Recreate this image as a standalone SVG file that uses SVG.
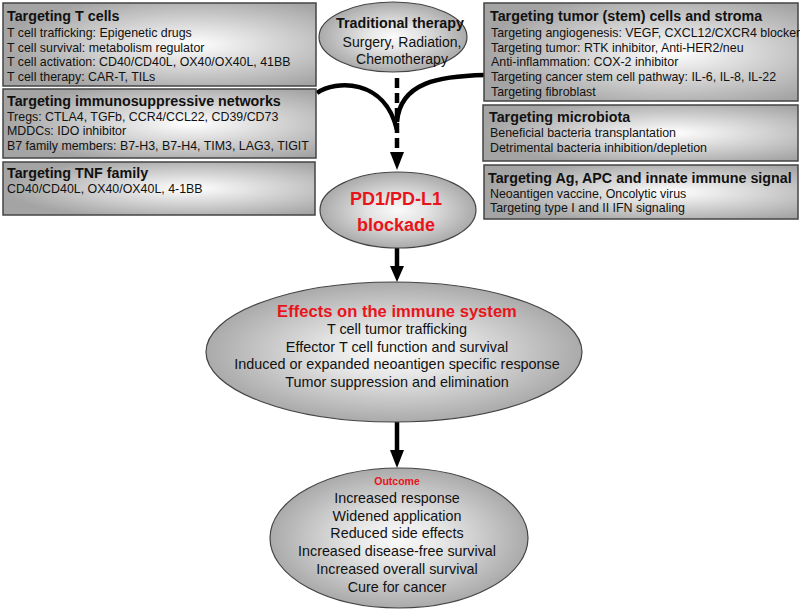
<svg xmlns="http://www.w3.org/2000/svg" width="800" height="611" viewBox="0 0 800 611">
<defs>
<radialGradient id="gb" cx="0.6" cy="0.5" r="0.6">
<stop offset="0" stop-color="#ffffff"/>
<stop offset="1" stop-color="#a4a4a4"/>
</radialGradient>
<radialGradient id="ge" cx="0.5" cy="0.5" r="0.5">
<stop offset="0" stop-color="#fafafa"/>
<stop offset="0.35" stop-color="#e6e6e6"/>
<stop offset="1" stop-color="#aaaaaa"/>
</radialGradient>
</defs>
<style>
.box{fill:url(#gb);stroke:#444;stroke-width:1.5}
.ell{fill:url(#ge);stroke:#444;stroke-width:1.2}
text{font-family:"Liberation Sans",Arial,sans-serif;fill:#111}
.t{font-size:14.3px;font-weight:bold}
.b{font-size:12.4px}
.c{text-anchor:middle}
.r{fill:#e8141b;font-weight:bold}
.ln{fill:none;stroke:#000;stroke-width:4.5}
</style>
<rect width="800" height="611" fill="#fff"/>

<g id="connectors">
<path class="ln" d="M317,93 C335,80 385,78 397,130"/>
<path class="ln" d="M485,75 C440,76 400,82 397,122"/>
<line class="ln" x1="397" y1="78" x2="397" y2="156" stroke-dasharray="10,5"/>
<path d="M390,152 L404,152 L397,170 Z" fill="#000"/>
<line class="ln" x1="397" y1="248" x2="397" y2="268"/>
<path d="M390,266 L404,266 L397,282 Z" fill="#000"/>
<line class="ln" x1="397" y1="422" x2="397" y2="452"/>
<path d="M390,450 L404,450 L397,468 Z" fill="#000"/>
</g>

<g id="box-tcells">
<rect class="box" x="3" y="3" width="313" height="83"/>
<text class="t" x="7" y="21">Targeting T cells</text>
<text class="b" x="7" y="37">T cell trafficking: Epigenetic drugs</text>
<text class="b" x="7" y="52">T cell survival: metabolism regulator</text>
<text class="b" x="7" y="66">T cell activation: CD40/CD40L, OX40/OX40L, 41BB</text>
<text class="b" x="7" y="81">T cell therapy: CAR-T, TILs</text>
</g>

<g id="box-immunosuppressive">
<rect class="box" x="3" y="89" width="313" height="69"/>
<text class="t" x="7" y="106">Targeting immunosuppressive networks</text>
<text class="b" x="7" y="121">Tregs: CTLA4, TGFb, CCR4/CCL22, CD39/CD73</text>
<text class="b" x="7" y="135">MDDCs: IDO inhibitor</text>
<text class="b" x="7" y="150">B7 family members: B7-H3, B7-H4, TIM3, LAG3, TIGIT</text>
</g>

<g id="box-tnf">
<rect class="box" x="3" y="162" width="312" height="53"/>
<text class="t" x="7" y="178">Targeting TNF family</text>
<text class="b" x="7" y="193">CD40/CD40L, OX40/OX40L, 4-1BB</text>
</g>

<g id="box-tumor">
<rect class="box" x="484" y="3" width="314" height="98"/>
<text class="t" x="490" y="21">Targeting tumor (stem) cells and stroma</text>
<text class="b" x="491" y="37">Targeting angiogenesis: VEGF, CXCL12/CXCR4 blocker</text>
<text class="b" x="491" y="52">Targeting tumor: RTK inhibitor, Anti-HER2/neu</text>
<text class="b" x="491" y="66">Anti-inflammation: COX-2 inhibitor</text>
<text class="b" x="491" y="81">Targeting cancer stem cell pathway: IL-6, IL-8, IL-22</text>
<text class="b" x="491" y="96">Targeting fibroblast</text>
</g>

<g id="box-microbiota">
<rect class="box" x="483" y="105" width="315" height="56"/>
<text class="t" x="489" y="122">Targeting microbiota</text>
<text class="b" x="490" y="137">Beneficial bacteria transplantation</text>
<text class="b" x="490" y="152">Detrimental bacteria inhibition/depletion</text>
</g>

<g id="box-ag">
<rect class="box" x="484" y="165" width="314" height="54"/>
<text class="t" x="488" y="183">Targeting Ag, APC and innate immune signal</text>
<text class="b" x="490" y="198">Neoantigen vaccine, Oncolytic virus</text>
<text class="b" x="490" y="212">Targeting type I and II IFN signaling</text>
</g>

<g id="traditional">
<ellipse class="ell" cx="393" cy="37" rx="74" ry="35"/>
<text class="t c" x="400" y="28">Traditional therapy</text>
<text class="c" x="402" y="47" font-size="14">Surgery, Radiation,</text>
<text class="c" x="402" y="64" font-size="14">Chemotherapy</text>
</g>

<g id="pd1">
<ellipse class="ell" cx="398" cy="210" rx="78" ry="38"/>
<text class="c r" x="396" y="205" font-size="18">PD1/PD-L1</text>
<text class="c r" x="396" y="231" font-size="18">blockade</text>
</g>

<g id="effects">
<ellipse class="ell" cx="394" cy="352" rx="188" ry="70"/>
<text class="c r" x="397" y="317" font-size="16.6">Effects on the immune system</text>
<text class="c" x="397" y="334" font-size="14.4">T cell tumor trafficking</text>
<text class="c" x="397" y="352" font-size="14.4">Effector T cell function and survival</text>
<text class="c" x="397" y="369" font-size="14.4">Induced or expanded neoantigen specific response</text>
<text class="c" x="397" y="387" font-size="14.4">Tumor suppression and elimination</text>
</g>

<g id="outcome">
<ellipse class="ell" cx="399" cy="538" rx="129" ry="70"/>
<text class="c r" x="397" y="485" font-size="10.5">Outcome</text>
<text class="c" x="397" y="503" font-size="14.3">Increased response</text>
<text class="c" x="397" y="521" font-size="14.3">Widened application</text>
<text class="c" x="397" y="538" font-size="14.3">Reduced side effects</text>
<text class="c" x="397" y="556" font-size="14.3">Increased disease-free survival</text>
<text class="c" x="397" y="574" font-size="14.3">Increased overall survival</text>
<text class="c" x="397" y="592" font-size="14.3">Cure for cancer</text>
</g>
</svg>
